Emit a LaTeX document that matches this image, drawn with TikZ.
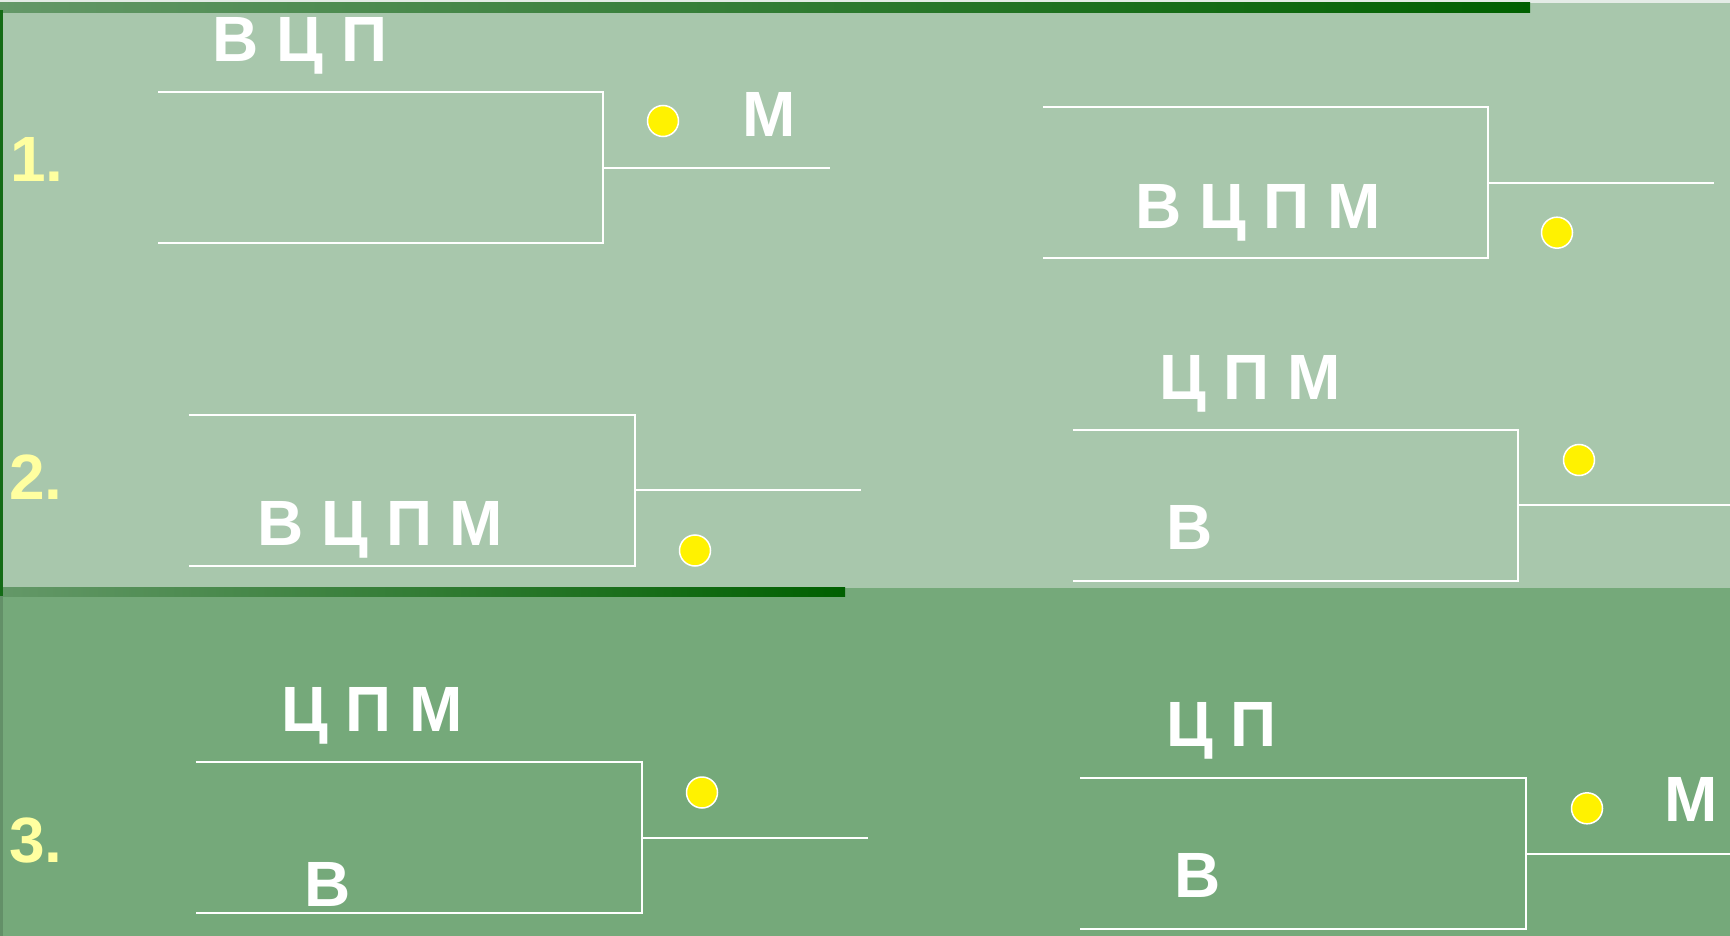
\documentclass[tikz,border=0pt]{standalone}
\usepackage{fontspec}
\setmainfont{Liberation Sans}
\definecolor{topgreen}{RGB}{168,199,172}
\definecolor{botgreen}{RGB}{117,169,122}
\definecolor{stripgray}{RGB}{228,236,230}
\definecolor{barlight}{RGB}{100,152,104}
\definecolor{bardark}{RGB}{0,96,0}
\definecolor{numyellow}{RGB}{255,255,160}
\tikzset{
  wline/.style={draw=white, line width=2pt},
  dot/.style={circle, fill=yellow, draw=white, line width=1.5pt, minimum size=31pt, inner sep=0pt},
  lbl/.style={anchor=base, inner sep=0pt, text=white, font=\fontsize{64}{64}\selectfont\bfseries},
  num/.style={anchor=base, inner sep=0pt, text=numyellow, font=\fontsize{64}{64}\selectfont\bfseries}
}
\begin{document}
\begin{tikzpicture}[x=1pt, y=-1pt]
\useasboundingbox (0,0) rectangle (1730,936);
% backgrounds
\fill[topgreen] (0,0) rectangle (1730,588);
\fill[botgreen] (0,588) rectangle (1730,936);
\fill[stripgray] (0,0) rectangle (1730,3);
\shade[left color=barlight, right color=bardark] (0,3) rectangle (1530,12.7);
\shade[left color=barlight, right color=bardark] (0,587) rectangle (845,596);
\fill[bardark!80!barlight] (0,10) rectangle (3,596);
\fill[botgreen!85!black] (0,596) rectangle (3,936);

% bracket 1
\coordinate (a1) at (158,91.7); \coordinate (b1) at (603,91.7);
\coordinate (c1) at (603,242.7); \coordinate (e1) at (158,242.7);
\coordinate (m1) at (603,167.7); \coordinate (o1) at (830,167.7);
\draw[wline] (a1) -- (b1) -- (c1) -- (e1);
\draw[wline] (m1) -- (o1);
% bracket 2
\coordinate (a2) at (1043,107); \coordinate (b2) at (1488,107);
\coordinate (c2) at (1488,257.7); \coordinate (e2) at (1043,257.7);
\coordinate (m2) at (1488,182.7); \coordinate (o2) at (1714,182.7);
\draw[wline] (a2) -- (b2) -- (c2) -- (e2);
\draw[wline] (m2) -- (o2);
% bracket 3
\coordinate (a3) at (188.5,414.5); \coordinate (b3) at (634.5,414.5);
\coordinate (c3) at (634.5,565.5); \coordinate (e3) at (188.5,565.5);
\coordinate (m3) at (634.5,489.5); \coordinate (o3) at (861,489.5);
\draw[wline] (a3) -- (b3) -- (c3) -- (e3);
\draw[wline] (m3) -- (o3);
% bracket 4
\coordinate (a4) at (1073,429.5); \coordinate (b4) at (1518.3,429.5);
\coordinate (c4) at (1518.3,580.5); \coordinate (e4) at (1073,580.5);
\coordinate (m4) at (1518.3,505); \coordinate (o4) at (1730,505);
\draw[wline] (a4) -- (b4) -- (c4) -- (e4);
\draw[wline] (m4) -- (o4);
% bracket 5
\coordinate (a5) at (195.5,762); \coordinate (b5) at (641.5,762);
\coordinate (c5) at (641.5,913); \coordinate (e5) at (195.5,913);
\coordinate (m5) at (641.5,837.7); \coordinate (o5) at (868,837.7);
\draw[wline] (a5) -- (b5) -- (c5) -- (e5);
\draw[wline] (m5) -- (o5);
% bracket 6
\coordinate (a6) at (1080,778); \coordinate (b6) at (1525.5,778);
\coordinate (c6) at (1525.5,928.5); \coordinate (e6) at (1080,928.5);
\coordinate (m6) at (1525.5,853.5); \coordinate (o6) at (1730,853.5);
\draw[wline] (a6) -- (b6) -- (c6) -- (e6);
\draw[wline] (m6) -- (o6);

% dots
\node[dot] (d1) at (663,121) {};
\node[dot] (d2) at (1557,232.7) {};
\node[dot] (d3) at (695,550.5) {};
\node[dot] (d4) at (1579,460) {};
\node[dot] (d5) at (702,792.5) {};
\node[dot] (d6) at (1587,808.3) {};

% numbers
\node[num] (n1) at (37,182) {1.};
\node[num] (n2) at (36,499.3) {2.};
\node[num] (n3) at (36,862.7) {3.};

% labels
\node[lbl] (t1) at (300,61.7) {В Ц П};
\node[lbl] (k1) at (769.5,136.7) {М};
\node[lbl] (t2) at (1258,228.3) {В Ц П М};
\node[lbl] (t3) at (380.5,545) {В Ц П М};
\node[lbl] (t4a) at (1250,399.3) {Ц П М};
\node[lbl] (t4b) at (1190,549.3) {В};
\node[lbl] (t5a) at (372,731.7) {Ц П М};
\node[lbl] (t5b) at (327.7,906.7) {В};
\node[lbl] (t6a) at (1221.5,746.7) {Ц П};
\node[lbl] (t6b) at (1198,897.7) {В};
\node[lbl] (k6) at (1691.4,821.7) {М};
\end{tikzpicture}
\end{document}
